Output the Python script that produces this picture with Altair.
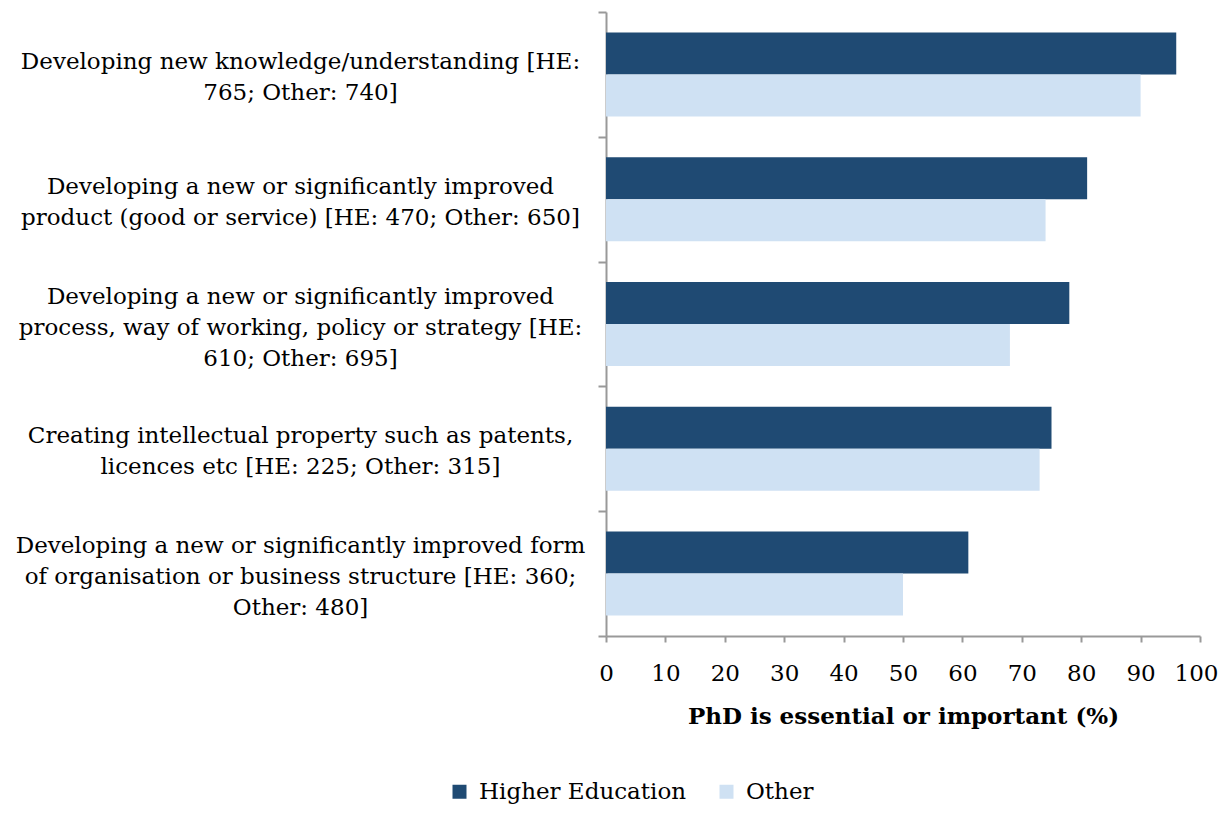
import altair as alt
import pandas as pd

categories = [
    "Developing new knowledge/understanding [HE:|765; Other: 740]",
    "Developing a new or significantly improved|product (good or service) [HE: 470; Other: 650]",
    "Developing a new or significantly improved|process, way of working, policy or strategy [HE:|610; Other: 695]",
    "Creating intellectual property such as patents,|licences etc [HE: 225; Other: 315]",
    "Developing a new or significantly improved form|of organisation or business structure [HE: 360;|Other: 480]",
]
series = ["Higher Education", "Other"]
he_values = [96, 81, 78, 75, 61]
other_values = [90, 74, 68, 73, 50]
x_ticks = list(range(0, 101, 10))

rows = []
for c, h, o in zip(categories, he_values, other_values):
    rows.append({"category": c, "series": series[0], "value": h})
    rows.append({"category": c, "series": series[1], "value": o})
df = pd.DataFrame(rows)

FONT = "DejaVu Serif"
FS = 23

chart = alt.Chart(df).mark_bar().encode(
    x=alt.X("value:Q",
            scale=alt.Scale(domain=[0, 100], nice=False),
            axis=alt.Axis(values=x_ticks, title="PhD is essential or important (%)",
                          grid=False, tickSize=6, labelPadding=20,
                          titlePadding=20, labelFlush=False,
                          labelOffset={"condition": {"test": "datum.value == 100", "value": -4},
                                       "value": 0})),
    y=alt.Y("category:N", sort=categories,
            scale=alt.Scale(paddingInner=0, paddingOuter=0),
            axis=alt.Axis(title=None, tickSize=8, tickBand="extent",
                          labelAlign="center", labelPadding=298, labelLimit=1000,
                          labelExpr="split(datum.label, '|')",
                          labelLineHeight=31,
                          labelOffset={"condition": {"test": "length(split(datum.value, '|')) == 3",
                                                     "value": -28},
                                       "value": -13})),
    yOffset=alt.YOffset("series:N", sort=series,
                        scale=alt.Scale(paddingInner=0, paddingOuter=0.486)),
    color=alt.Color("series:N", sort=series,
                    scale=alt.Scale(domain=series, range=["#1F4A73", "#CFE1F3"]),
                    legend=alt.Legend(title=None, orient="none", direction="horizontal",
                                      legendX=-158, legendY=768,
                                      symbolType="square", symbolSize=196,
                                      symbolStrokeWidth=0, labelOffset=8,
                                      columnPadding=28, labelFontSize=FS,
                                      labelLimit=1000, padding=0,
                                      labelFont=FONT, labelColor="black")),
).properties(
    width=594, height=624,
    autosize=alt.AutoSizeParams(type="none"),
    padding={"left": 598, "top": 4, "right": 19, "bottom": 171},
).configure_view(stroke=None).configure_axis(
    domainColor="#999999", tickColor="#999999", domainWidth=2, tickWidth=2,
    labelFont=FONT, labelFontSize=FS, labelColor="black",
    titleFont=FONT, titleFontSize=FS, titleColor="black", titleFontWeight="bold",
)

chart.save("out.html", embed_options={"renderer": "svg", "actions": False})
